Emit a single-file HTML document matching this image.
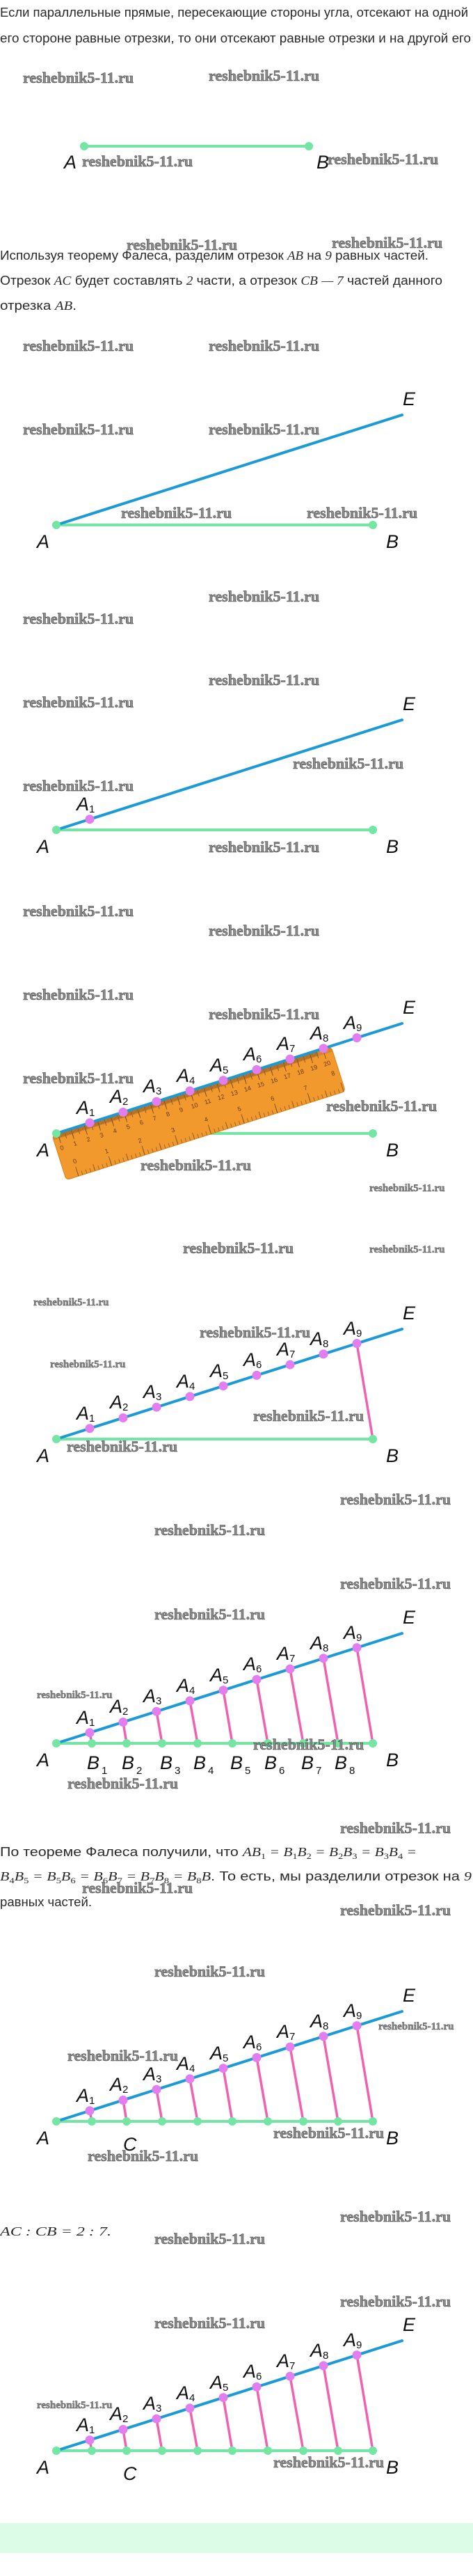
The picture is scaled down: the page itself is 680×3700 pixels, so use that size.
<!DOCTYPE html>
<html><head><meta charset="utf-8"><style>
html,body{margin:0;padding:0;background:#fff;}
svg{display:block;}
.t{font-family:"Liberation Sans",sans-serif;font-size:18px;fill:#2a2a2a;}
.m{font-family:"Liberation Serif",serif;font-style:italic;}
.w{font-family:"Liberation Serif",serif;font-weight:bold;font-size:22px;fill:#8c8c8c;stroke:#3a3a3a;stroke-width:0.5px;}
.ws{font-family:"Liberation Serif",serif;font-weight:bold;font-size:15px;fill:#8c8c8c;stroke:#3a3a3a;stroke-width:0.4px;}
.l{font-family:"Liberation Sans Narrow","Liberation Sans",sans-serif;font-style:italic;font-size:27px;fill:#111;}
.s{font-style:normal;font-size:15px;}
.bl{stroke:#1b9ad6;stroke-width:4;stroke-linecap:round;}
.gr{stroke:#74e6a4;stroke-width:4;stroke-linecap:round;}
.pk{stroke:#f062b0;stroke-width:3.5;stroke-linecap:round;}
.gd{fill:#74e6a4;}
.pd{fill:#e27ef0;}
.rn{font-family:"Liberation Sans",sans-serif;font-size:9px;fill:#6b3a10;text-anchor:middle;}
</style></head><body>
<svg width="680" height="3700" viewBox="0 0 680 3700" xmlns="http://www.w3.org/2000/svg">
<defs>
<pattern id="mm" x="8" y="0" width="2" height="67" patternUnits="userSpaceOnUse"><line x1="0.5" y1="0" x2="0.5" y2="6" stroke="#7a4a1a" stroke-width="0.7"/></pattern>
<pattern id="cm5" x="8" y="0" width="10" height="67" patternUnits="userSpaceOnUse"><line x1="0.5" y1="0" x2="0.5" y2="10" stroke="#7a4a1a" stroke-width="0.8"/></pattern>
<pattern id="cm" x="8" y="0" width="20" height="67" patternUnits="userSpaceOnUse"><line x1="0.5" y1="0" x2="0.5" y2="14" stroke="#7a4a1a" stroke-width="0.9"/></pattern>
<pattern id="in8" x="18" y="0" width="6.25" height="67" patternUnits="userSpaceOnUse"><line x1="0.5" y1="61" x2="0.5" y2="67" stroke="#8a5a22" stroke-width="0.8"/></pattern>
<pattern id="in2" x="18" y="0" width="25" height="67" patternUnits="userSpaceOnUse"><line x1="0.5" y1="57" x2="0.5" y2="67" stroke="#8a5a22" stroke-width="0.9"/></pattern>
<pattern id="in1" x="18" y="0" width="50" height="67" patternUnits="userSpaceOnUse"><line x1="0.5" y1="53" x2="0.5" y2="67" stroke="#8a5a22" stroke-width="1"/></pattern>
</defs>

<text class="t" x="0" y="24" textLength="673" lengthAdjust="spacingAndGlyphs">Если параллельные прямые, пересекающие стороны угла, отсекают на одной</text>
<text class="t" x="0" y="61" textLength="677" lengthAdjust="spacingAndGlyphs">его стороне равные отрезки, то они отсекают равные отрезки и на другой его</text>

<line class="gr" x1="121" y1="210" x2="444" y2="210"/>
<circle class="gd" cx="121" cy="210" r="6"/><circle class="gd" cx="444" cy="210" r="6"/>
<text class="l" x="92" y="242">A</text><text class="l" x="455" y="242">B</text>

<text class="t" x="0" y="373" textLength="616" lengthAdjust="spacingAndGlyphs">Используя теорему Фалеса, разделим отрезок <tspan class="m">AB</tspan> на <tspan class="m" font-style="normal">9</tspan> равных частей.</text>
<text class="t" x="0" y="409" textLength="636" lengthAdjust="spacingAndGlyphs">Отрезок <tspan class="m">AC</tspan> будет составлять <tspan class="m" font-style="normal">2</tspan> части, а отрезок <tspan class="m">CB</tspan> <tspan class="m" font-style="normal">— 7</tspan> частей данного</text>
<text class="t" x="0" y="445" textLength="110" lengthAdjust="spacingAndGlyphs">отрезка <tspan class="m">AB</tspan>.</text>

<g transform="translate(0,754)">
<line class="gr" x1="81" y1="0" x2="536" y2="0"/>
<line class="bl" x1="81" y1="0" x2="578" y2="-158"/>
<circle class="gd" cx="81" cy="0" r="6"/><circle class="gd" cx="536" cy="0" r="6"/>
<text class="l" x="53" y="33">A</text><text class="l" x="555" y="33">B</text><text class="l" x="579" y="-172">E</text>
</g>

<g transform="translate(0,1192)">
<line class="gr" x1="81" y1="0" x2="536" y2="0"/>
<line class="bl" x1="81" y1="0" x2="578" y2="-158"/>
<circle class="gd" cx="81" cy="0" r="6"/><circle class="gd" cx="536" cy="0" r="6"/>
<circle class="pd" cx="129" cy="-15.3" r="6.5"/>
<text class="l" x="110" y="-28">A<tspan class="s" dy="3">1</tspan></text>
<text class="l" x="53" y="33">A</text><text class="l" x="555" y="33">B</text><text class="l" x="579" y="-172">E</text>
</g>

<g transform="translate(0,1628)">
<line class="gr" x1="81" y1="0" x2="536" y2="0"/>
<circle class="gd" cx="536" cy="0" r="6"/>
<g transform="translate(75,3) rotate(-17.6)">
<rect x="0" y="0" width="421" height="67" rx="5" fill="#f2992e" stroke="#d98420" stroke-width="1"/>
<rect x="1" y="0" width="419" height="7" fill="#b8722a" opacity="0.45"/>
<rect x="8" y="0" width="392" height="67" fill="url(#mm)"/>
<rect x="8" y="0" width="392" height="67" fill="url(#cm5)"/>
<rect x="8" y="0" width="401" height="67" fill="url(#cm)"/>
<rect x="18" y="0" width="395" height="67" fill="url(#in8)"/>
<rect x="18" y="0" width="395" height="67" fill="url(#in2)"/>
<rect x="18" y="0" width="402" height="67" fill="url(#in1)"/>
<text class="rn" x="8" y="24">0</text><text class="rn" x="28" y="24">1</text><text class="rn" x="48" y="24">2</text><text class="rn" x="68" y="24">3</text><text class="rn" x="88" y="24">4</text><text class="rn" x="108" y="24">5</text><text class="rn" x="128" y="24">6</text><text class="rn" x="148" y="24">7</text><text class="rn" x="168" y="24">8</text><text class="rn" x="188" y="24">9</text><text class="rn" x="208" y="24">10</text><text class="rn" x="228" y="24">11</text><text class="rn" x="248" y="24">12</text><text class="rn" x="268" y="24">13</text><text class="rn" x="288" y="24">14</text><text class="rn" x="308" y="24">15</text><text class="rn" x="328" y="24">16</text><text class="rn" x="348" y="24">17</text><text class="rn" x="368" y="24">18</text><text class="rn" x="388" y="24">19</text><text class="rn" x="408" y="24">20</text>
<text class="rn" x="20" y="48">0</text><text class="rn" x="68" y="48">1</text><text class="rn" x="118" y="48">2</text><text class="rn" x="168" y="48">3</text><text class="rn" x="218" y="48">4</text><text class="rn" x="268" y="48">5</text><text class="rn" x="318" y="48">6</text><text class="rn" x="368" y="48">7</text><text class="rn" x="412" y="40">8</text>
</g>
<line class="bl" x1="81" y1="0" x2="578" y2="-158"/>
<circle class="gd" cx="81" cy="0" r="6"/>
<circle class="pd" cx="129" cy="-15.3" r="6.5"/><circle class="pd" cx="177" cy="-30.5" r="6.5"/><circle class="pd" cx="225" cy="-45.8" r="6.5"/><circle class="pd" cx="273" cy="-61.1" r="6.5"/><circle class="pd" cx="321" cy="-76.3" r="6.5"/><circle class="pd" cx="369" cy="-91.6" r="6.5"/><circle class="pd" cx="417" cy="-106.9" r="6.5"/><circle class="pd" cx="465" cy="-122.1" r="6.5"/><circle class="pd" cx="513" cy="-137.4" r="6.5"/>
<text class="l" x="110" y="-28">A<tspan class="s" dy="3">1</tspan></text><text class="l" x="158" y="-44">A<tspan class="s" dy="3">2</tspan></text><text class="l" x="206" y="-59">A<tspan class="s" dy="3">3</tspan></text><text class="l" x="254" y="-74">A<tspan class="s" dy="3">4</tspan></text><text class="l" x="302" y="-89">A<tspan class="s" dy="3">5</tspan></text><text class="l" x="350" y="-105">A<tspan class="s" dy="3">6</tspan></text><text class="l" x="398" y="-120">A<tspan class="s" dy="3">7</tspan></text><text class="l" x="446" y="-135">A<tspan class="s" dy="3">8</tspan></text><text class="l" x="494" y="-150">A<tspan class="s" dy="3">9</tspan></text>
<text class="l" x="53" y="33">A</text><text class="l" x="555" y="33">B</text><text class="l" x="579" y="-172">E</text>
</g>

<g transform="translate(0,2067)">
<line class="gr" x1="81" y1="0" x2="536" y2="0"/>
<line class="bl" x1="81" y1="0" x2="578" y2="-158"/>
<line class="pk" x1="513" y1="-137.4" x2="536" y2="0"/>
<circle class="gd" cx="81" cy="0" r="6"/><circle class="gd" cx="536" cy="0" r="6"/>
<circle class="pd" cx="129" cy="-15.3" r="6.5"/><circle class="pd" cx="177" cy="-30.5" r="6.5"/><circle class="pd" cx="225" cy="-45.8" r="6.5"/><circle class="pd" cx="273" cy="-61.1" r="6.5"/><circle class="pd" cx="321" cy="-76.3" r="6.5"/><circle class="pd" cx="369" cy="-91.6" r="6.5"/><circle class="pd" cx="417" cy="-106.9" r="6.5"/><circle class="pd" cx="465" cy="-122.1" r="6.5"/><circle class="pd" cx="513" cy="-137.4" r="6.5"/>
<text class="l" x="110" y="-28">A<tspan class="s" dy="3">1</tspan></text><text class="l" x="158" y="-44">A<tspan class="s" dy="3">2</tspan></text><text class="l" x="206" y="-59">A<tspan class="s" dy="3">3</tspan></text><text class="l" x="254" y="-74">A<tspan class="s" dy="3">4</tspan></text><text class="l" x="302" y="-89">A<tspan class="s" dy="3">5</tspan></text><text class="l" x="350" y="-105">A<tspan class="s" dy="3">6</tspan></text><text class="l" x="398" y="-120">A<tspan class="s" dy="3">7</tspan></text><text class="l" x="446" y="-135">A<tspan class="s" dy="3">8</tspan></text><text class="l" x="494" y="-150">A<tspan class="s" dy="3">9</tspan></text>
<text class="l" x="53" y="33">A</text><text class="l" x="555" y="33">B</text><text class="l" x="579" y="-172">E</text>
</g>

<g transform="translate(0,2504)">
<line class="gr" x1="81" y1="0" x2="536" y2="0"/>
<line class="bl" x1="81" y1="0" x2="578" y2="-158"/>
<line class="pk" x1="129" y1="-15.3" x2="132" y2="0"/><line class="pk" x1="177" y1="-30.5" x2="182" y2="0"/><line class="pk" x1="225" y1="-45.8" x2="233" y2="0"/><line class="pk" x1="273" y1="-61.1" x2="284" y2="0"/><line class="pk" x1="321" y1="-76.3" x2="334" y2="0"/><line class="pk" x1="369" y1="-91.6" x2="385" y2="0"/><line class="pk" x1="417" y1="-106.9" x2="436" y2="0"/><line class="pk" x1="465" y1="-122.1" x2="486" y2="0"/><line class="pk" x1="513" y1="-137.4" x2="536" y2="0"/>
<circle class="gd" cx="81" cy="0" r="6"/><circle class="gd" cx="132" cy="0" r="6"/><circle class="gd" cx="182" cy="0" r="6"/><circle class="gd" cx="233" cy="0" r="6"/><circle class="gd" cx="284" cy="0" r="6"/><circle class="gd" cx="334" cy="0" r="6"/><circle class="gd" cx="385" cy="0" r="6"/><circle class="gd" cx="436" cy="0" r="6"/><circle class="gd" cx="486" cy="0" r="6"/><circle class="gd" cx="536" cy="0" r="6"/>
<circle class="pd" cx="129" cy="-15.3" r="6.5"/><circle class="pd" cx="177" cy="-30.5" r="6.5"/><circle class="pd" cx="225" cy="-45.8" r="6.5"/><circle class="pd" cx="273" cy="-61.1" r="6.5"/><circle class="pd" cx="321" cy="-76.3" r="6.5"/><circle class="pd" cx="369" cy="-91.6" r="6.5"/><circle class="pd" cx="417" cy="-106.9" r="6.5"/><circle class="pd" cx="465" cy="-122.1" r="6.5"/><circle class="pd" cx="513" cy="-137.4" r="6.5"/>
<text class="l" x="110" y="-28">A<tspan class="s" dy="3">1</tspan></text><text class="l" x="158" y="-44">A<tspan class="s" dy="3">2</tspan></text><text class="l" x="206" y="-59">A<tspan class="s" dy="3">3</tspan></text><text class="l" x="254" y="-74">A<tspan class="s" dy="3">4</tspan></text><text class="l" x="302" y="-89">A<tspan class="s" dy="3">5</tspan></text><text class="l" x="350" y="-105">A<tspan class="s" dy="3">6</tspan></text><text class="l" x="398" y="-120">A<tspan class="s" dy="3">7</tspan></text><text class="l" x="446" y="-135">A<tspan class="s" dy="3">8</tspan></text><text class="l" x="494" y="-150">A<tspan class="s" dy="3">9</tspan></text>
<text class="l" x="125" y="37">B<tspan class="s" dy="7" dx="3">1</tspan></text><text class="l" x="175" y="37">B<tspan class="s" dy="7" dx="3">2</tspan></text><text class="l" x="230" y="37">B<tspan class="s" dy="7" dx="3">3</tspan></text><text class="l" x="278" y="37">B<tspan class="s" dy="7" dx="3">4</tspan></text><text class="l" x="331" y="37">B<tspan class="s" dy="7" dx="3">5</tspan></text><text class="l" x="380" y="37">B<tspan class="s" dy="7" dx="3">6</tspan></text><text class="l" x="433" y="37">B<tspan class="s" dy="7" dx="3">7</tspan></text><text class="l" x="481" y="37">B<tspan class="s" dy="7" dx="3">8</tspan></text>
<text class="l" x="53" y="33">A</text><text class="l" x="555" y="33">B</text><text class="l" x="579" y="-172">E</text>
</g>

<text class="t" x="0" y="2666" textLength="599" lengthAdjust="spacingAndGlyphs">По теореме Фалеса получили, что <tspan class="m">AB<tspan font-size="12" dy="4" font-style="normal">1</tspan><tspan dy="-4"> = B</tspan><tspan font-size="12" dy="4" font-style="normal">1</tspan><tspan dy="-4">B</tspan><tspan font-size="12" dy="4" font-style="normal">2</tspan><tspan dy="-4"> = B</tspan><tspan font-size="12" dy="4" font-style="normal">2</tspan><tspan dy="-4">B</tspan><tspan font-size="12" dy="4" font-style="normal">3</tspan><tspan dy="-4"> = B</tspan><tspan font-size="12" dy="4" font-style="normal">3</tspan><tspan dy="-4">B</tspan><tspan font-size="12" dy="4" font-style="normal">4</tspan><tspan dy="-4"> =</tspan></tspan></text>
<text class="t" x="0" y="2701" textLength="678" lengthAdjust="spacingAndGlyphs"><tspan class="m">B<tspan font-size="12" dy="4" font-style="normal">4</tspan><tspan dy="-4">B</tspan><tspan font-size="12" dy="4" font-style="normal">5</tspan><tspan dy="-4"> = B</tspan><tspan font-size="12" dy="4" font-style="normal">5</tspan><tspan dy="-4">B</tspan><tspan font-size="12" dy="4" font-style="normal">6</tspan><tspan dy="-4"> = B</tspan><tspan font-size="12" dy="4" font-style="normal">6</tspan><tspan dy="-4">B</tspan><tspan font-size="12" dy="4" font-style="normal">7</tspan><tspan dy="-4"> = B</tspan><tspan font-size="12" dy="4" font-style="normal">7</tspan><tspan dy="-4">B</tspan><tspan font-size="12" dy="4" font-style="normal">8</tspan><tspan dy="-4"> = B</tspan><tspan font-size="12" dy="4" font-style="normal">8</tspan><tspan dy="-4">B</tspan></tspan>. То есть, мы разделили отрезок на <tspan class="m" font-style="normal">9</tspan></text>
<text class="t" x="0" y="2738" textLength="132" lengthAdjust="spacingAndGlyphs">равных частей.</text>

<g transform="translate(0,3047)">
<line class="gr" x1="81" y1="0" x2="536" y2="0"/>
<line class="bl" x1="81" y1="0" x2="578" y2="-158"/>
<line class="pk" x1="129" y1="-15.3" x2="132" y2="0"/><line class="pk" x1="177" y1="-30.5" x2="182" y2="0"/><line class="pk" x1="225" y1="-45.8" x2="233" y2="0"/><line class="pk" x1="273" y1="-61.1" x2="284" y2="0"/><line class="pk" x1="321" y1="-76.3" x2="334" y2="0"/><line class="pk" x1="369" y1="-91.6" x2="385" y2="0"/><line class="pk" x1="417" y1="-106.9" x2="436" y2="0"/><line class="pk" x1="465" y1="-122.1" x2="486" y2="0"/><line class="pk" x1="513" y1="-137.4" x2="536" y2="0"/>
<circle class="gd" cx="81" cy="0" r="6"/><circle class="gd" cx="132" cy="0" r="6"/><circle class="gd" cx="182" cy="0" r="6"/><circle class="gd" cx="233" cy="0" r="6"/><circle class="gd" cx="284" cy="0" r="6"/><circle class="gd" cx="334" cy="0" r="6"/><circle class="gd" cx="385" cy="0" r="6"/><circle class="gd" cx="436" cy="0" r="6"/><circle class="gd" cx="486" cy="0" r="6"/><circle class="gd" cx="536" cy="0" r="6"/>
<circle class="pd" cx="129" cy="-15.3" r="6.5"/><circle class="pd" cx="177" cy="-30.5" r="6.5"/><circle class="pd" cx="225" cy="-45.8" r="6.5"/><circle class="pd" cx="273" cy="-61.1" r="6.5"/><circle class="pd" cx="321" cy="-76.3" r="6.5"/><circle class="pd" cx="369" cy="-91.6" r="6.5"/><circle class="pd" cx="417" cy="-106.9" r="6.5"/><circle class="pd" cx="465" cy="-122.1" r="6.5"/><circle class="pd" cx="513" cy="-137.4" r="6.5"/>
<text class="l" x="110" y="-28">A<tspan class="s" dy="3">1</tspan></text><text class="l" x="158" y="-44">A<tspan class="s" dy="3">2</tspan></text><text class="l" x="206" y="-59">A<tspan class="s" dy="3">3</tspan></text><text class="l" x="254" y="-74">A<tspan class="s" dy="3">4</tspan></text><text class="l" x="302" y="-89">A<tspan class="s" dy="3">5</tspan></text><text class="l" x="350" y="-105">A<tspan class="s" dy="3">6</tspan></text><text class="l" x="398" y="-120">A<tspan class="s" dy="3">7</tspan></text><text class="l" x="446" y="-135">A<tspan class="s" dy="3">8</tspan></text><text class="l" x="494" y="-150">A<tspan class="s" dy="3">9</tspan></text>
<text class="l" x="177" y="42">C</text>
<text class="l" x="53" y="33">A</text><text class="l" x="555" y="33">B</text><text class="l" x="579" y="-172">E</text>
</g>

<text class="t m" x="0" y="3211" textLength="160" lengthAdjust="spacingAndGlyphs" font-size="19">AC : CB = 2 : 7.</text>

<g transform="translate(0,3520)">
<line class="gr" x1="81" y1="0" x2="536" y2="0"/>
<line class="bl" x1="81" y1="0" x2="578" y2="-158"/>
<line class="pk" x1="129" y1="-15.3" x2="132" y2="0"/><line class="pk" x1="177" y1="-30.5" x2="182" y2="0"/><line class="pk" x1="225" y1="-45.8" x2="233" y2="0"/><line class="pk" x1="273" y1="-61.1" x2="284" y2="0"/><line class="pk" x1="321" y1="-76.3" x2="334" y2="0"/><line class="pk" x1="369" y1="-91.6" x2="385" y2="0"/><line class="pk" x1="417" y1="-106.9" x2="436" y2="0"/><line class="pk" x1="465" y1="-122.1" x2="486" y2="0"/><line class="pk" x1="513" y1="-137.4" x2="536" y2="0"/>
<circle class="gd" cx="81" cy="0" r="6"/><circle class="gd" cx="132" cy="0" r="6"/><circle class="gd" cx="182" cy="0" r="6"/><circle class="gd" cx="233" cy="0" r="6"/><circle class="gd" cx="284" cy="0" r="6"/><circle class="gd" cx="334" cy="0" r="6"/><circle class="gd" cx="385" cy="0" r="6"/><circle class="gd" cx="436" cy="0" r="6"/><circle class="gd" cx="486" cy="0" r="6"/><circle class="gd" cx="536" cy="0" r="6"/>
<circle class="pd" cx="129" cy="-15.3" r="6.5"/><circle class="pd" cx="177" cy="-30.5" r="6.5"/><circle class="pd" cx="225" cy="-45.8" r="6.5"/><circle class="pd" cx="273" cy="-61.1" r="6.5"/><circle class="pd" cx="321" cy="-76.3" r="6.5"/><circle class="pd" cx="369" cy="-91.6" r="6.5"/><circle class="pd" cx="417" cy="-106.9" r="6.5"/><circle class="pd" cx="465" cy="-122.1" r="6.5"/><circle class="pd" cx="513" cy="-137.4" r="6.5"/>
<text class="l" x="110" y="-28">A<tspan class="s" dy="3">1</tspan></text><text class="l" x="158" y="-44">A<tspan class="s" dy="3">2</tspan></text><text class="l" x="206" y="-59">A<tspan class="s" dy="3">3</tspan></text><text class="l" x="254" y="-74">A<tspan class="s" dy="3">4</tspan></text><text class="l" x="302" y="-89">A<tspan class="s" dy="3">5</tspan></text><text class="l" x="350" y="-105">A<tspan class="s" dy="3">6</tspan></text><text class="l" x="398" y="-120">A<tspan class="s" dy="3">7</tspan></text><text class="l" x="446" y="-135">A<tspan class="s" dy="3">8</tspan></text><text class="l" x="494" y="-150">A<tspan class="s" dy="3">9</tspan></text>
<text class="l" x="177" y="42">C</text>
<text class="l" x="53" y="33">A</text><text class="l" x="555" y="33">B</text><text class="l" x="579" y="-172">E</text>
</g>

<rect x="0" y="3624" width="680" height="43" fill="#dcfce8"/>

<text class="w" x="33" y="119">reshebnik5-11.ru</text><text class="w" x="300" y="116">reshebnik5-11.ru</text>
<text class="w" x="118" y="239">reshebnik5-11.ru</text><text class="w" x="471" y="236">reshebnik5-11.ru</text>
<text class="w" x="182" y="359">reshebnik5-11.ru</text><text class="w" x="477" y="356">reshebnik5-11.ru</text>
<text class="w" x="33" y="504">reshebnik5-11.ru</text><text class="w" x="300" y="504">reshebnik5-11.ru</text>
<text class="w" x="33" y="624">reshebnik5-11.ru</text><text class="w" x="300" y="624">reshebnik5-11.ru</text>
<text class="w" x="174" y="744">reshebnik5-11.ru</text><text class="w" x="441" y="744">reshebnik5-11.ru</text>
<text class="w" x="300" y="864">reshebnik5-11.ru</text><text class="w" x="33" y="896">reshebnik5-11.ru</text>
<text class="w" x="300" y="984">reshebnik5-11.ru</text><text class="w" x="33" y="1016">reshebnik5-11.ru</text>
<text class="w" x="421" y="1104">reshebnik5-11.ru</text><text class="w" x="33" y="1136">reshebnik5-11.ru</text>
<text class="w" x="300" y="1224">reshebnik5-11.ru</text><text class="w" x="33" y="1316">reshebnik5-11.ru</text>
<text class="w" x="300" y="1344">reshebnik5-11.ru</text>
<text class="w" x="33" y="1436">reshebnik5-11.ru</text><text class="w" x="300" y="1464">reshebnik5-11.ru</text>
<text class="w" x="33" y="1556">reshebnik5-11.ru</text><text class="w" x="469" y="1596">reshebnik5-11.ru</text>
<text class="w" x="202" y="1681">reshebnik5-11.ru</text><text class="ws" x="531" y="1711">reshebnik5-11.ru</text>
<text class="w" x="263" y="1800">reshebnik5-11.ru</text><text class="ws" x="531" y="1799">reshebnik5-11.ru</text>
<text class="ws" x="48" y="1875">reshebnik5-11.ru</text><text class="w" x="287" y="1921">reshebnik5-11.ru</text>
<text class="ws" x="72" y="1964">reshebnik5-11.ru</text><text class="w" x="364" y="2041">reshebnik5-11.ru</text>
<text class="w" x="96" y="2085">reshebnik5-11.ru</text><text class="w" x="489" y="2161">reshebnik5-11.ru</text>
<text class="w" x="222" y="2205">reshebnik5-11.ru</text><text class="w" x="489" y="2282">reshebnik5-11.ru</text>
<text class="w" x="222" y="2326">reshebnik5-11.ru</text>
<text class="ws" x="53" y="2439">reshebnik5-11.ru</text><text class="w" x="364" y="2513">reshebnik5-11.ru</text>
<text class="w" x="97" y="2569">reshebnik5-11.ru</text><text class="w" x="489" y="2633">reshebnik5-11.ru</text>
<text class="w" x="118" y="2719">reshebnik5-11.ru</text><text class="w" x="489" y="2751">reshebnik5-11.ru</text>
<text class="w" x="222" y="2839">reshebnik5-11.ru</text><text class="ws" x="544" y="2915">reshebnik5-11.ru</text>
<text class="w" x="97" y="2960">reshebnik5-11.ru</text><text class="w" x="393" y="3071">reshebnik5-11.ru</text>
<text class="w" x="126" y="3104">reshebnik5-11.ru</text><text class="w" x="489" y="3191">reshebnik5-11.ru</text>
<text class="w" x="222" y="3223">reshebnik5-11.ru</text>
<text class="w" x="489" y="3313">reshebnik5-11.ru</text><text class="w" x="222" y="3344">reshebnik5-11.ru</text>
<text class="ws" x="53" y="3459">reshebnik5-11.ru</text><text class="w" x="393" y="3544">reshebnik5-11.ru</text>
</svg>
</body></html>
